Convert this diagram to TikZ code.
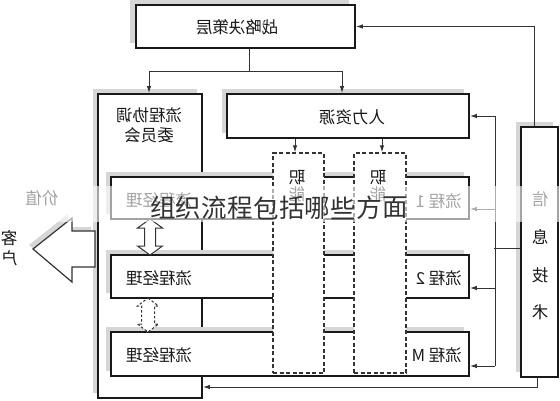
\documentclass[tikz,border=0pt]{standalone}
\usepackage{fontspec}
\usepackage{graphicx}
\newfontfamily\cjk{Noto Sans CJK SC}
\usetikzlibrary{arrows.meta,calc}
\newcommand{\rf}[1]{\reflectbox{#1}}
\newcommand{\drawdiagram}{%
% shadows of main boxes
\fill[shadebox] (130,0) rectangle (349,43);
\fill[shadebox] (93,89) rectangle (197,393);
\fill[shadebox] (222,89) rectangle (464,133);
\fill[shadebox] (516,122) rectangle (553,372);
% main boxes
\node[box, minimum width=219pt, minimum height=43pt] (strat) at (245.5,26.5) {};
\node[box, minimum width=104pt, minimum height=304pt] (comm) at (150,246) {};
\node[box, minimum width=242pt, minimum height=44pt] (hr) at (348,116) {};
\node[box, minimum width=37pt, minimum height=250pt] (it) at (539.5,252) {};
% process box shadows
\fill[shadebox] (106,172) rectangle (464,214);
\fill[shadebox] (106,250) rectangle (464,293);
\fill[shadebox] (106,327) rectangle (464,371);
% process boxes
\node[box, minimum width=358pt, minimum height=42pt] (p1) at (290,198) {};
\node[box, minimum width=358pt, minimum height=43pt] (p2) at (290,276.5) {};
\node[box, minimum width=358pt, minimum height=44pt] (pM) at (290,354) {};
% function columns (dashed)
\node[fbox, minimum width=51pt, minimum height=220pt] (f1) at (298.5,263) {};
\node[fbox, minimum width=52pt, minimum height=220pt] (f2) at (380,263) {};
% connectors from strategy layer
\coordinate (j) at (249,71);
\draw[conn] ($(strat.south)+(3.5,0)$) -- (j);
\draw[conn,tip] (j) -| ($(comm.north)+(-1,0)$);
\draw[conn,tip] (j) -| ($(hr.north)+(-6,0)$);
% HR to function columns
\draw[conn,tip] ($(f1.north |- hr.south)+(-3.5,0)$) -- ($(f1.north)+(-3.5,0)$);
\draw[conn,tip] ($(f2.north |- hr.south)+(2,0)$) -- ($(f2.north)+(2,0)$);
% IT bus
\coordinate (bt) at (495,116);
\coordinate (bb) at (495,366);
\draw[conn] (bt) -- (bb);
\draw[conn,tip] (bt) -- (hr.east);
\draw[conn,tip] ($(p1.east)+(26,11)$) -- ($(p1.east)+(0,11)$);
\draw[conn,tip] ($(p2.east)+(26,11.5)$) -- ($(p2.east)+(0,11.5)$);
\draw[conn,tip] (bb) -- ($(pM.east)+(0,12)$);
\draw[conn] ($(it.west)+(0,-4)$) -- ++(-26,0);
\draw[conn,tip] ($(it.north)+(-5.5,0)$) |- (strat.east);
\draw[conn,tip] ($(it.south)+(-2.5,0)$) |- ($(comm.east)+(0,141)$);
% hollow double arrows between process boxes
\draw[conn, fill=white]
  (150,219) -- (162.5,228) -- (155.5,228) -- (155.5,246) -- (162.5,246) -- (150,255)
  -- (137.5,246) -- (144.5,246) -- (144.5,228) -- (137.5,228) -- cycle;
\draw[conn, fill=white, dash pattern=on 2.5pt off 2pt]
  (148,298) -- (158.5,306) -- (154.5,306) -- (154.5,324) -- (158.5,324) -- (148,332)
  -- (137.5,324) -- (141.5,324) -- (141.5,306) -- (137.5,306) -- cycle;
% big value arrow to the customer
\fill[shadebox] (91,227) -- (68,227) -- (68,214) -- (29,245) -- (68,278) -- (68,263) -- (91,263) -- cycle;
\draw[conn, line width=1.2pt, fill=white]
  (95,231) -- (72,231) -- (72,218) -- (33,249) -- (72,282) -- (72,267) -- (95,267) -- cycle;
% texts (mirrored as in the reference)
\node[txt] (tstrat) at (237,27) {\rf{战略决策层}};
\node[txt] (tcomm1) at (149,115) {\rf{流程协调}};
\node[txt] (tcomm2) at (149,135) {\rf{委员会}};
\node[txt] (thr) at (352,117) {\rf{人力资源}};
\node[txt] (tm1) at (159,200) {\rf{流程经理}};
\node[txt] (tm2) at (159,278) {\rf{流程经理}};
\node[txt] (tm3) at (159,355) {\rf{流程经理}};
\node[txt, anchor=east] (tp1) at (462,201) {\rf{流程 1}};
\node[txt, anchor=east] (tp2) at (462,278) {\rf{流程 2}};
\node[txt, anchor=east] (tpM) at (462,355) {\rf{流程 M}};
\node[txt] (tf1a) at (297,178) {\rf{职}};
\node[txt] (tf1b) at (297,194) {\rf{能}};
\node[txt] (tf2a) at (378,178) {\rf{职}};
\node[txt] (tf2b) at (378,194) {\rf{能}};
\node[txt] (ti1) at (540,199) {\rf{信}};
\node[txt] (ti2) at (540,237) {\rf{息}};
\node[txt] (ti3) at (540,275) {\rf{技}};
\node[txt] (ti4) at (540,312) {\rf{术}};
\node[txt] (tval) at (42,198) {\rf{价值}};
\node[txt] (tc1) at (9,238) {\rf{客}};
\node[txt] (tc2) at (9,258) {\rf{户}};
}
\begin{document}
\begin{tikzpicture}[x=1pt,y=-1pt,
  box/.style={draw=cbox, line width=1.8pt, fill=white, inner sep=0pt},
  shadebox/.style={fill=cshade, draw=none},
  fbox/.style={draw=cconn, line width=1.3pt, dash pattern=on 4pt off 2.5pt, fill=white, inner sep=0pt},
  txt/.style={font=\cjk\fontsize{16.5}{18}\selectfont, inner sep=0pt, text=ctext},
  conn/.style={line width=1pt, draw=cconn},
  tip/.style={-{Latex[length=7pt,width=4.5pt]}},
  wmchar/.style={font=\cjk\fontsize{25.5}{28}\selectfont, inner sep=0pt, text=black!80}
]
\useasboundingbox (0,0) rectangle (560,400);
\fill[white] (0,0) rectangle (560,400);
\colorlet{cbox}{black!90}
\colorlet{cconn}{black!80}
\colorlet{cshade}{black!16}
\colorlet{ctext}{black!90}
\drawdiagram
% faded band across the picture (redrawn in light tones)
\begin{scope}
\clip (0,186) rectangle (560,221);
\fill[white] (0,186) rectangle (560,221);
\colorlet{cbox}{black!36}
\colorlet{cconn}{black!32}
\colorlet{cshade}{black!7}
\colorlet{ctext}{black!36}
\drawdiagram
\end{scope}
% caption over the band, one node per character
\node[wmchar] (wm0) at (162.9,208) {组};
\node[wmchar] (wm1) at (188.7,208) {织};
\node[wmchar] (wm2) at (214.5,208) {流};
\node[wmchar] (wm3) at (240.3,208) {程};
\node[wmchar] (wm4) at (266.1,208) {包};
\node[wmchar] (wm5) at (291.9,208) {括};
\node[wmchar] (wm6) at (317.7,208) {哪};
\node[wmchar] (wm7) at (343.5,208) {些};
\node[wmchar] (wm8) at (369.3,208) {方};
\node[wmchar] (wm9) at (395.1,208) {面};
\end{tikzpicture}
\end{document}
